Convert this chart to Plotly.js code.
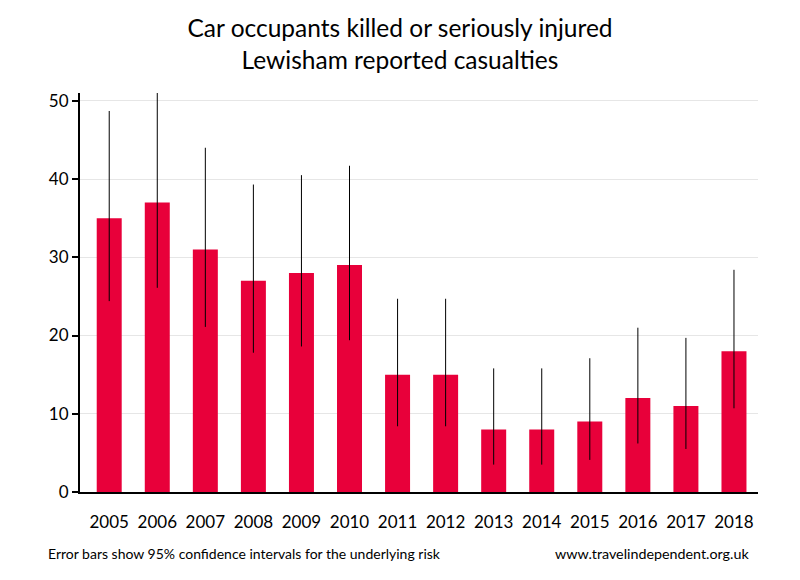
<!DOCTYPE html>
<html>
<head>
<meta charset="utf-8">
<script src="https://cdn.plot.ly/plotly-3.0.1.min.js"></script>
<style>html,body{margin:0;padding:0;background:#fff;}#chart{width:800px;height:580px;}</style>
</head>
<body>
<div id="chart"></div>
<script>
var years = ['2005','2006','2007','2008','2009','2010','2011','2012','2013','2014','2015','2016','2017','2018'];
var casualties = [35, 37, 31, 27, 28, 29, 15, 15, 8, 8, 9, 12, 11, 18];
var ciUpper = [48.7, 51.0, 44.0, 39.3, 40.5, 41.7, 24.7, 24.7, 15.8, 15.8, 17.1, 21.0, 19.7, 28.4];
var ciLower = [24.4, 26.1, 21.1, 17.8, 18.6, 19.4, 8.4, 8.4, 3.5, 3.5, 4.1, 6.2, 5.5, 10.7];

var plus = casualties.map(function(v,i){return ciUpper[i]-v;});
var minus = casualties.map(function(v,i){return v-ciLower[i];});

var font = 'Lato, "Open Sans", sans-serif';

var trace = {
  type: 'bar',
  x: years,
  y: casualties,
  marker: {color: '#e8003a', line: {width: 0}},
  error_y: {type: 'data', symmetric: false, array: plus, arrayminus: minus, color: '#000', thickness: 1, width: 0},
  hoverinfo: 'none'
};

var layout = {
  width: 800, height: 580,
  margin: {l: 80, r: 42, t: 93, b: 88},
  paper_bgcolor: '#fff', plot_bgcolor: '#fff',
  bargap: 0.48,
  showlegend: false,
  font: {family: font, size: 16, color: '#000'},
  title: {text: 'Car occupants killed or seriously injured<br>Lewisham reported casualties', x: 0.5, xanchor: 'center', y: 0.936, yanchor: 'top', font: {family: font, size: 24.5, color: '#000'}},
  xaxis: {type: 'category', range: [-0.608, 13.5], showline: true, linecolor: '#000', linewidth: 2, ticks: 'outside', ticklen: 14, tickcolor: 'rgba(0,0,0,0)', showgrid: false, tickfont: {size: 17}, fixedrange: true},
  yaxis: {range: [0, 51], showline: true, linecolor: '#000', linewidth: 2, ticks: 'outside', ticklen: 6, tickwidth: 2, tickcolor: '#000', dtick: 10, showgrid: true, gridcolor: '#e6e6e6', gridwidth: 1, zeroline: false, tickfont: {size: 17}, fixedrange: true},
  annotations: [
    {text: 'Error bars show 95% confidence intervals for the underlying risk', xref: 'paper', yref: 'paper', x: -0.05, y: -0.153, xanchor: 'left', yanchor: 'middle', showarrow: false, font: {family: font, size: 14, color: '#000'}},
    {text: 'www.travelindependent.org.uk', xref: 'paper', yref: 'paper', x: 0.99, y: -0.153, xanchor: 'right', yanchor: 'middle', showarrow: false, font: {family: font, size: 14.3, color: '#000'}}
  ]
};

Plotly.newPlot('chart', [trace], layout, {staticPlot: true, displayModeBar: false});
</script>
</body>
</html>
